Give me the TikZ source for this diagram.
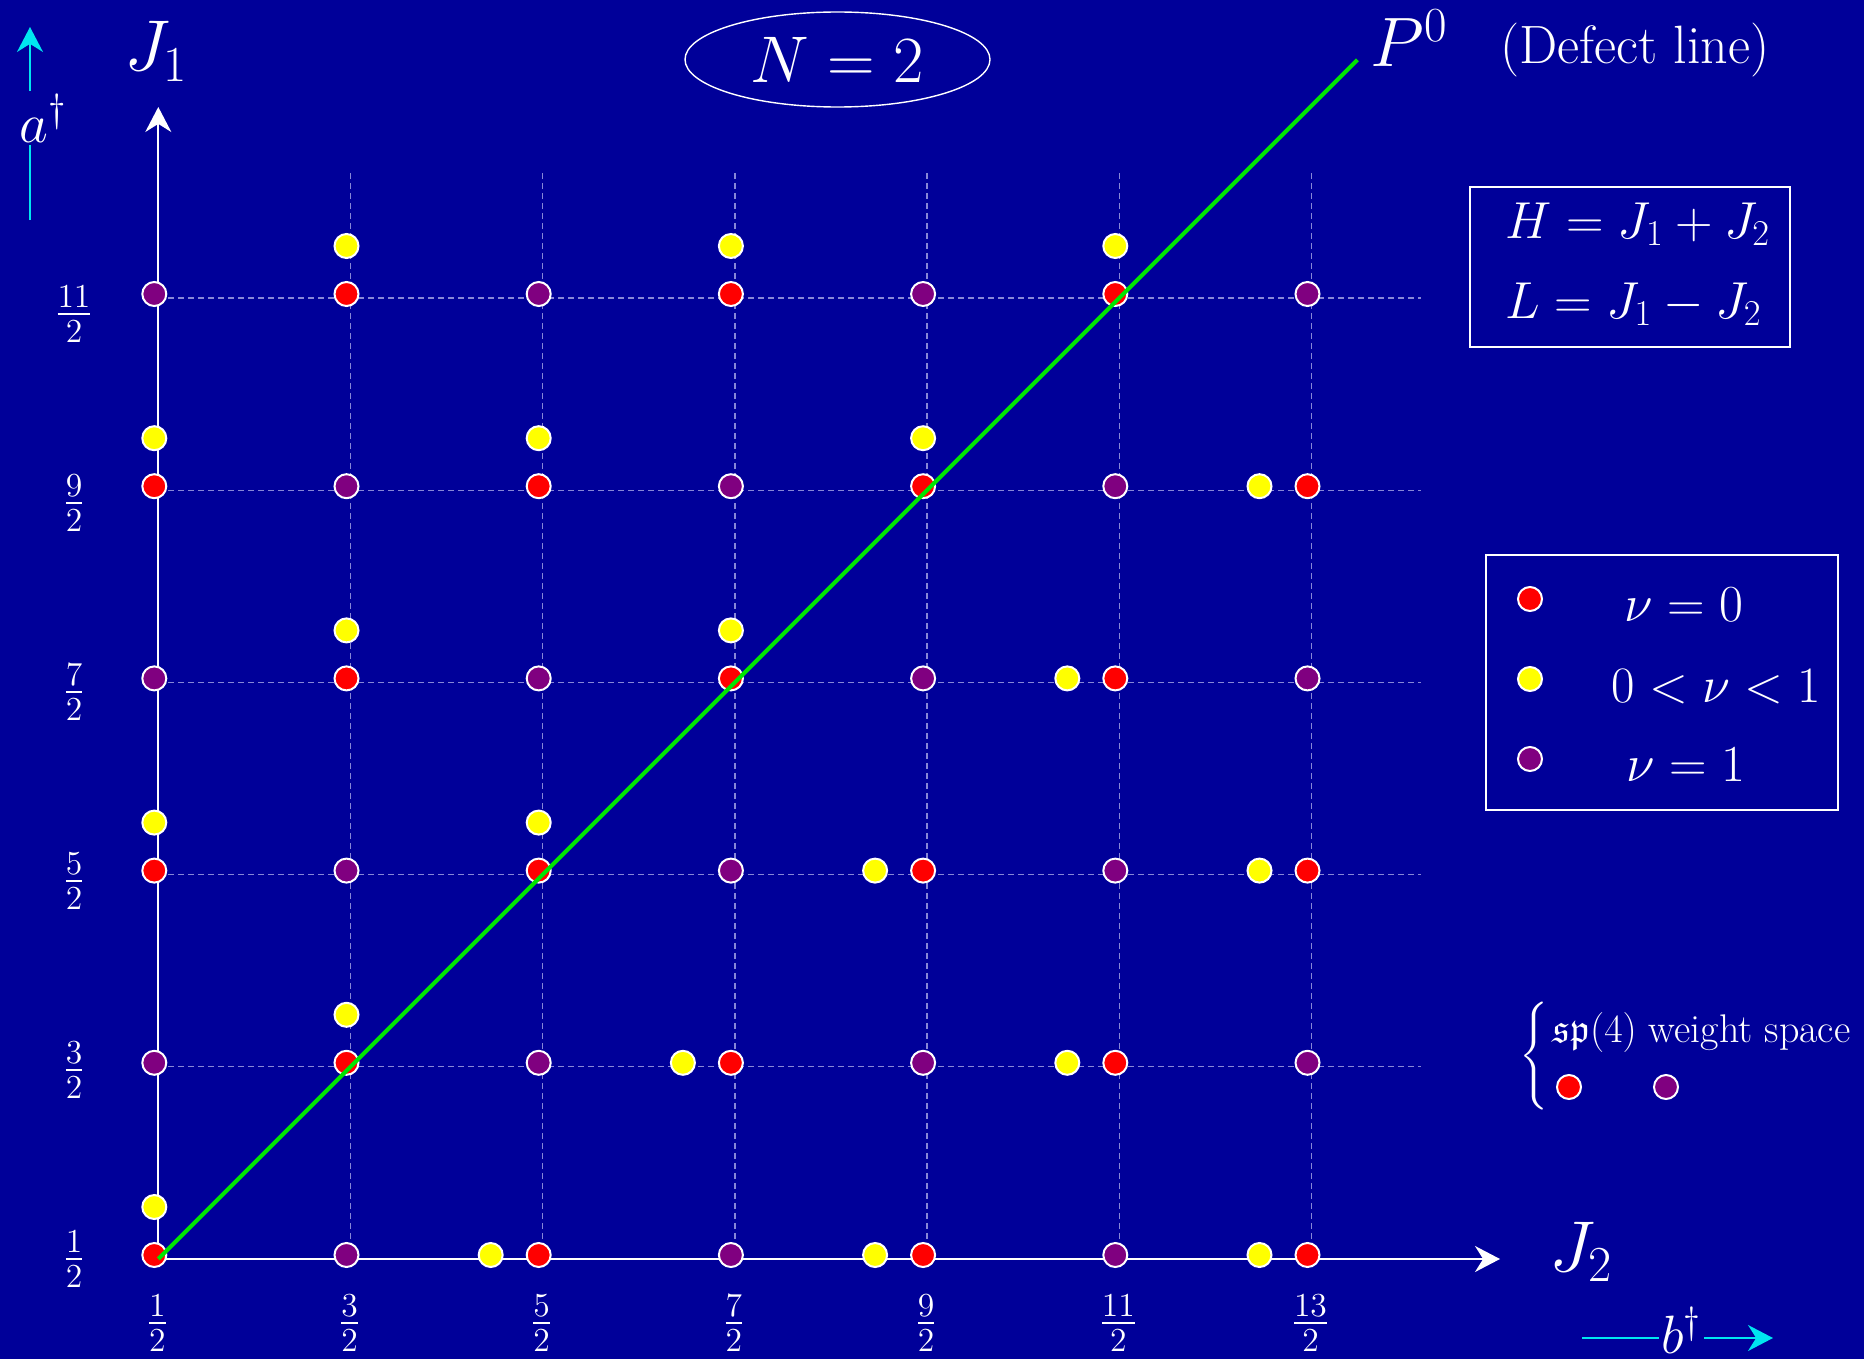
\RequirePackage{fix-cm}
\documentclass[tikz,border=0pt]{standalone}
\usepackage{amsmath,amssymb}
\usetikzlibrary{shapes.geometric,arrows.meta}
\definecolor{bgblue}{RGB}{0,0,153}
\definecolor{dotred}{RGB}{255,0,0}
\definecolor{dotyel}{RGB}{255,255,0}
\definecolor{dotpur}{RGB}{128,0,128}
\definecolor{lgreen}{RGB}{0,230,0}
\definecolor{arrcyan}{RGB}{0,230,240}
\definecolor{gridc}{RGB}{135,135,215}
\begin{document}
\begin{tikzpicture}[x=0.5pt,y=-0.5pt,
  dot/.style={circle,draw=white,line width=1pt,minimum size=12pt,inner sep=0pt},
  rdot/.style={dot,fill=dotred},
  ydot/.style={dot,fill=dotyel},
  pdot/.style={dot,fill=dotpur},
  gridline/.style={gridc,line width=0.65pt,dash pattern=on 3pt off 2pt},
  tip/.style={-{Stealth[length=12.5pt,width=13pt]}},
  axisline/.style={white,line width=1pt},
  cyanline/.style={arrcyan,line width=1pt},
  lbl/.style={text=white,inner sep=0pt},
  fjay/.style={font=\fontsize{36}{42}\selectfont},
  fpee/.style={font=\fontsize{35}{41}\selectfont},
  fen/.style={font=\fontsize{33}{39}\selectfont},
  fdef/.style={font=\fontsize{27}{32}\selectfont},
  fleg/.style={font=\fontsize{26}{31}\selectfont},
  fdag/.style={font=\fontsize{28}{33}\selectfont},
  fmed/.style={font=\fontsize{24}{29}\selectfont},
  fsml/.style={font=\fontsize{20}{24}\selectfont},
  boxframe/.style={draw=white,line width=1pt,inner sep=0pt},
]
\useasboundingbox (0,0) rectangle (1864,1359);
\fill[bgblue] (0,0) rectangle (1864,1359);

% grid
\foreach \i in {1,...,6}{
  \draw[gridline] ({158.3+192.2*\i},1259) -- ({158.3+192.2*\i},172);
}
\foreach \j in {1,...,5}{
  \draw[gridline] (158.3,{1259-192.2*\j}) -- (1421,{1259-192.2*\j});
}

% axes
\coordinate (orig) at (158.3,1259);
\coordinate (xend) at (1500,1259);
\coordinate (yend) at (158.3,107);
\coordinate (gend) at (1357.5,59.8);
\draw[axisline,tip] (orig) -- (xend);
\draw[axisline,tip] (orig) -- (yend);

% tick labels
\foreach \k/\t in {0/1,1/3,2/5,3/7,4/9,5/11,6/13}{
  \node[lbl,fmed,anchor=base] (xt\k) at ({157.3+192.2*\k},1335) {$\frac{\t}{2}$};
}
\foreach \k/\t in {0/1,1/3,2/5,3/7,4/9,5/11}{
  \node[lbl,fmed,anchor=base] (yt\k) at (74,{1271-189*\k}) {$\frac{\t}{2}$};
}

% dots
\foreach \i in {0,...,6}{
  \foreach \j in {0,...,5}{
    \pgfmathtruncatemacro{\pp}{mod(\i+\j,2)}
    \ifnum\pp=0
      \node[rdot] (d\i\j) at ({154.3+192.2*\i},{1255-192.2*\j}) {};
      \ifnum\j<\i
        \node[ydot] (y\i\j) at ({154.3+192.2*\i-48},{1255-192.2*\j}) {};
      \else
        \node[ydot] (y\i\j) at ({154.3+192.2*\i},{1255-192.2*\j-48}) {};
      \fi
    \else
      \node[pdot] (d\i\j) at ({154.3+192.2*\i},{1255-192.2*\j}) {};
    \fi
  }
}

% defect line
\draw[lgreen,line width=2pt] (orig) -- (gend);

% axis labels
\node[lbl,fjay,anchor=base west] (J1) at (124,71) {$J_1$};
\node[lbl,fjay,anchor=base west] (J2) at (1549,1271) {$J_2$};
\node[lbl,fpee,anchor=base west] (P0) at (1370,67) {$P^0$};
\node[lbl,fdef,anchor=base west] (defect) at (1500,64) {(Defect line)};

% N = 2
\node[ellipse,draw=white,line width=0.7pt,minimum width=152.5pt,minimum height=47.5pt,inner sep=0pt,text=white,fen] (N) at (837.5,59.5) {$N=2$};

% a dagger arrow
\node[lbl,fdag,anchor=base west,inner ysep=1.5pt] (adag) at (19,142) {$a^\dagger$};
\coordinate (abot) at (30,220);
\coordinate (atop) at (30,27);
\draw[cyanline] (abot) -- (abot |- adag.south);
\draw[cyanline,tip] (atop |- adag.north) -- (atop);

% b dagger arrow
\node[lbl,font=\fontsize{27}{32}\selectfont,anchor=base west,inner xsep=1pt] (bdag) at (1659,1353) {$b^\dagger$};
\coordinate (bl) at (1582,1338);
\coordinate (br) at (1773,1338);
\draw[cyanline] (bl) -- (bl -| bdag.west);
\draw[cyanline,tip] (br -| bdag.east) -- (br);

% box 1
\node[boxframe,minimum width=160pt,minimum height=80pt] (box1) at (1630,267) {};
\node[lbl,fleg,anchor=base west] (Hdef) at (1505,238) {$H=J_1+J_2$};
\node[lbl,fleg,anchor=base west] (Ldef) at (1505,318) {$L=J_1-J_2$};

% box 2 legend
\node[boxframe,minimum width=176pt,minimum height=127.5pt] (box2) at (1662,682.5) {};
\node[rdot] (lr) at (1530,599) {};
\node[ydot] (ly) at (1530,679) {};
\node[pdot] (lp) at (1530,759) {};
\node[lbl,fleg,anchor=base] (tr) at (1684,621) {$\nu=0$};
\node[lbl,font=\fontsize{25.5}{30}\selectfont,anchor=base] (ty) at (1716,702) {$0<\nu<1$};
\node[lbl,fleg,anchor=base] (tp) at (1686,781) {$\nu=1$};

% sp(4) weight space
\node[lbl,font=\fontsize{18}{20}\selectfont] (brace) at (1534,1056.5) {$\Biggl\{$};
\node[lbl,fsml,anchor=base west] (sp) at (1552,1042) {$\mathfrak{sp}(4)$ weight space};
\node[rdot] (sr) at (1569,1087) {};
\node[pdot] (spd) at (1666,1087) {};
\end{tikzpicture}
\end{document}
